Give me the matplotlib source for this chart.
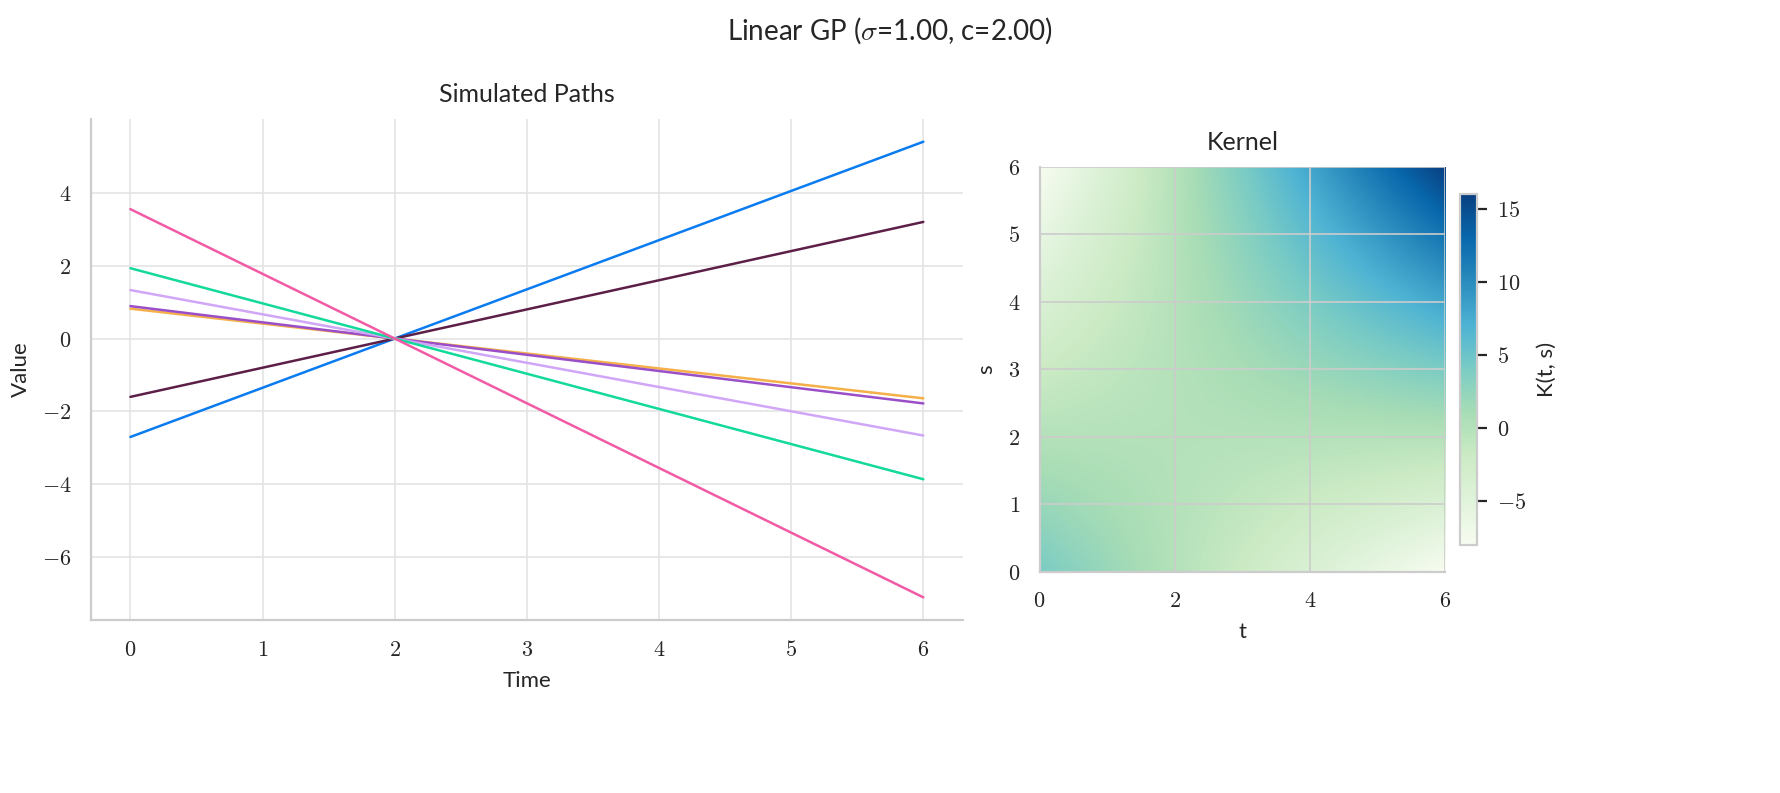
import numpy as np
import matplotlib
matplotlib.use("Agg")
import matplotlib.pyplot as plt
from matplotlib.ticker import FuncFormatter
import seaborn as sns

sns.set_style("whitegrid")
plt.rcParams['font.family'] = ['Lato', 'DejaVu Sans']
plt.rcParams['mathtext.fontset'] = 'cm'

sigma, c = 1.0, 2.0
t = np.linspace(0, 6, 200)

# slopes of the simulated paths
slopes = [1.35, 0.80, -0.41, -0.445, -0.665, -0.965, -1.775]
colors = ['#0a7cf0', '#5c1f48', '#f5b04a', '#9a4fc9', '#d0a6f7', '#13d99a', '#f25aa6']

tex = FuncFormatter(lambda v, p: r"$%g$" % v)

fig = plt.figure(figsize=(8.9, 3.965), dpi=200)
ax1 = fig.add_axes([0.051, 0.218, 0.490, 0.632])
ax2 = fig.add_axes([0.584, 0.279, 0.228, 0.511])
cax = fig.add_axes([0.820, 0.313, 0.010, 0.442])

for a, col in zip(slopes, colors):
    ax1.plot(t, a * (t - c), color=col, lw=0.9)
ax1.set_title("Simulated Paths", fontsize=9)
ax1.set_xlabel("Time", fontsize=8)
ax1.set_ylabel("Value", fontsize=8)
ax1.set_yticks([-6, -4, -2, 0, 2, 4])
ax1.xaxis.set_major_formatter(tex)
ax1.yaxis.set_major_formatter(tex)
ax1.tick_params(labelsize=8)
ax1.grid(color='#e4e4e4', lw=0.6)
for s in ['top', 'right']:
    ax1.spines[s].set_visible(False)
for s in ['left', 'bottom']:
    ax1.spines[s].set_color('#cccccc')

T, S = np.meshgrid(np.linspace(0, 6, 200), np.linspace(0, 6, 200))
K = sigma**2 * (T - c) * (S - c)
im = ax2.imshow(K, origin='lower', extent=[0, 6, 0, 6], cmap='GnBu', aspect='auto')
ax2.set_title("Kernel", fontsize=9)
ax2.set_xlabel("t", fontsize=8)
ax2.set_ylabel("s", fontsize=8)
ax2.set_xticks([0, 2, 4, 6])
ax2.set_yticks(range(7))
ax2.xaxis.set_major_formatter(tex)
ax2.yaxis.set_major_formatter(tex)
ax2.tick_params(labelsize=8)
ax2.grid(color='#cccccc', lw=0.6)
for s in ['top', 'right']:
    ax2.spines[s].set_visible(False)
for s in ['left', 'bottom']:
    ax2.spines[s].set_color('#cccccc')

cb = fig.colorbar(im, cax=cax)
cb.set_label("K(t, s)", fontsize=8)
cb.ax.yaxis.set_major_formatter(tex)
cb.ax.tick_params(labelsize=8)
cb.outline.set_edgecolor('#cccccc')

fig.suptitle(r"Linear GP ($\sigma$=1.00, c=2.00)", fontsize=10, x=0.5, y=0.98)
fig.savefig("out.png", dpi=200)
